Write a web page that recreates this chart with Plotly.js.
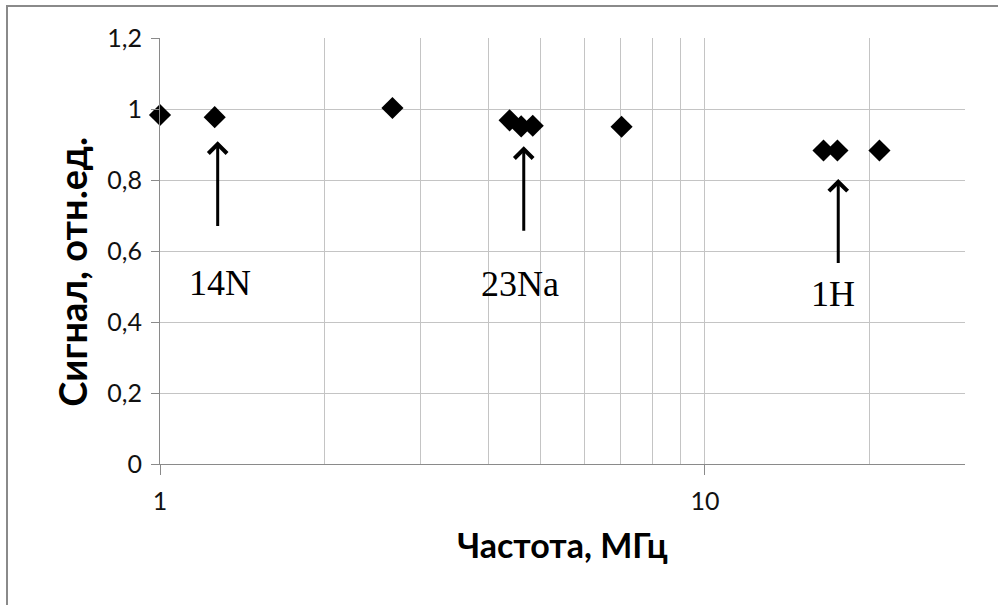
<!DOCTYPE html>
<html>
<head>
<meta charset="utf-8">
<script src="https://cdn.plot.ly/plotly-3.0.1.min.js"></script>
<style>
  html, body { margin: 0; padding: 0; background: #fff; }
  #wrap { position: relative; width: 998px; height: 605px; overflow: hidden; }
  #frame { position: absolute; left: 6px; top: 5px; width: 1100px; height: 700px;
           border-left: 2px solid #8a8a8a; border-top: 2px solid #8a8a8a; pointer-events: none; }
  #chart { position: absolute; left: 0; top: 0; width: 998px; height: 605px; }
</style>
</head>
<body>
<div id="wrap">
  <div id="chart"></div>
  <div id="frame"></div>
</div>
<script>
// Data
const frequencyMHz = [1.0, 1.26, 2.67, 4.38, 4.60, 4.83, 7.03, 16.5, 17.5, 20.9];
const signalRel    = [0.983, 0.977, 1.003, 0.968, 0.951, 0.953, 0.950, 0.883, 0.883, 0.883];

// Labels and arrows (nucleus markers)
const nucleusLabels = ['14N', '23Na', '1H'];
const labelX  = [1.29, 4.57, 17.15];
const labelY  = [0.511, 0.508, 0.479];
const arrowX  = [1.276, 4.65, 17.56];
const arrowTipY  = [0.909, 0.895, 0.803];
const arrowTailY = [0.666, 0.653, 0.562];

// Axis ticks
const yTicks = [0, 0.2, 0.4, 0.6, 0.8, 1.0, 1.2];
const xMajorTicks = [1, 10];
const xMinorTicks = [2, 3, 4, 5, 6, 7, 8, 9, 20, 30];

const xTitle = 'Частота, МГц';
const yTitle = 'Сигнал, отн.ед.';

const trace = {
  x: frequencyMHz,
  y: signalRel,
  type: 'scatter',
  mode: 'markers',
  cliponaxis: false,
  marker: { symbol: 'diamond', size: 17, color: '#000000', line: { width: 0 } },
  hoverinfo: 'x+y'
};

const annotations = [];
for (let i = 0; i < nucleusLabels.length; i++) {
  annotations.push({
    xref: 'x', yref: 'y',
    x: Math.log10(arrowX[i]), y: arrowTipY[i],
    axref: 'x', ayref: 'y',
    ax: Math.log10(arrowX[i]), ay: arrowTailY[i],
    text: '', showarrow: true,
    arrowhead: 4, arrowsize: 1.2, arrowwidth: 3, arrowcolor: '#000000',
    standoff: 0, startstandoff: 0
  });
  annotations.push({
    xref: 'x', yref: 'y',
    x: Math.log10(labelX[i]), y: labelY[i],
    text: nucleusLabels[i], showarrow: false,
    xanchor: 'center', yanchor: 'middle',
    font: { family: '"Liberation Serif", "Times New Roman", serif', size: 36, color: '#000000' }
  });
}
annotations.push({
  xref: 'paper', yref: 'paper',
  x: -0.1097, y: 0.4505,
  text: yTitle, showarrow: false, textangle: -90,
  xanchor: 'center', yanchor: 'middle',
  font: { family: 'Lato, "Liberation Sans", sans-serif', size: 38, color: '#000000', weight: 'bold' }
});

const layout = {
  width: 998, height: 605,
  margin: { l: 160, r: 33, t: 38, b: 141, pad: 0 },
  paper_bgcolor: 'rgba(0,0,0,0)',
  plot_bgcolor: '#ffffff',
  separators: ', ',
  showlegend: false,
  font: { family: 'Lato, "Liberation Sans", sans-serif', color: '#000000' },
  xaxis: {
    type: 'log',
    range: [0, Math.log10(30)],
    tickmode: 'array',
    tickvals: xMajorTicks,
    ticktext: xMajorTicks.map(String),
    ticks: 'outside', ticklen: 10, tickwidth: 1, tickcolor: '#8a8a8a',
    showgrid: true, gridcolor: '#c4c4c4', gridwidth: 1,
    minor: { tickmode: 'array', tickvals: xMinorTicks, showgrid: true, gridcolor: '#c4c4c4', gridwidth: 1, ticks: '' },
    showline: true, linecolor: '#8a8a8a', linewidth: 1,
    zeroline: false,
    tickfont: { family: 'Lato, "Liberation Sans", sans-serif', size: 25, color: '#111111' },
    ticklabelstandoff: 5,
    title: { text: xTitle, standoff: 20,
             font: { family: 'Lato, "Liberation Sans", sans-serif', size: 34, color: '#000000', weight: 'bold' } },
    automargin: false,
    fixedrange: true
  },
  yaxis: {
    range: [0, 1.2],
    tickmode: 'array',
    tickvals: yTicks,
    ticks: 'outside', ticklen: 8, tickwidth: 1, tickcolor: '#8a8a8a',
    showgrid: true, gridcolor: '#c4c4c4', gridwidth: 1,
    showline: true, linecolor: '#8a8a8a', linewidth: 1,
    zeroline: false,
    tickfont: { family: 'Lato, "Liberation Sans", sans-serif', size: 25, color: '#111111' },
    ticklabelstandoff: 4,
    automargin: false,
    fixedrange: true
  },
  annotations: annotations
};

Plotly.newPlot('chart', [trace], layout, { displayModeBar: false, staticPlot: true });
</script>
</body>
</html>
